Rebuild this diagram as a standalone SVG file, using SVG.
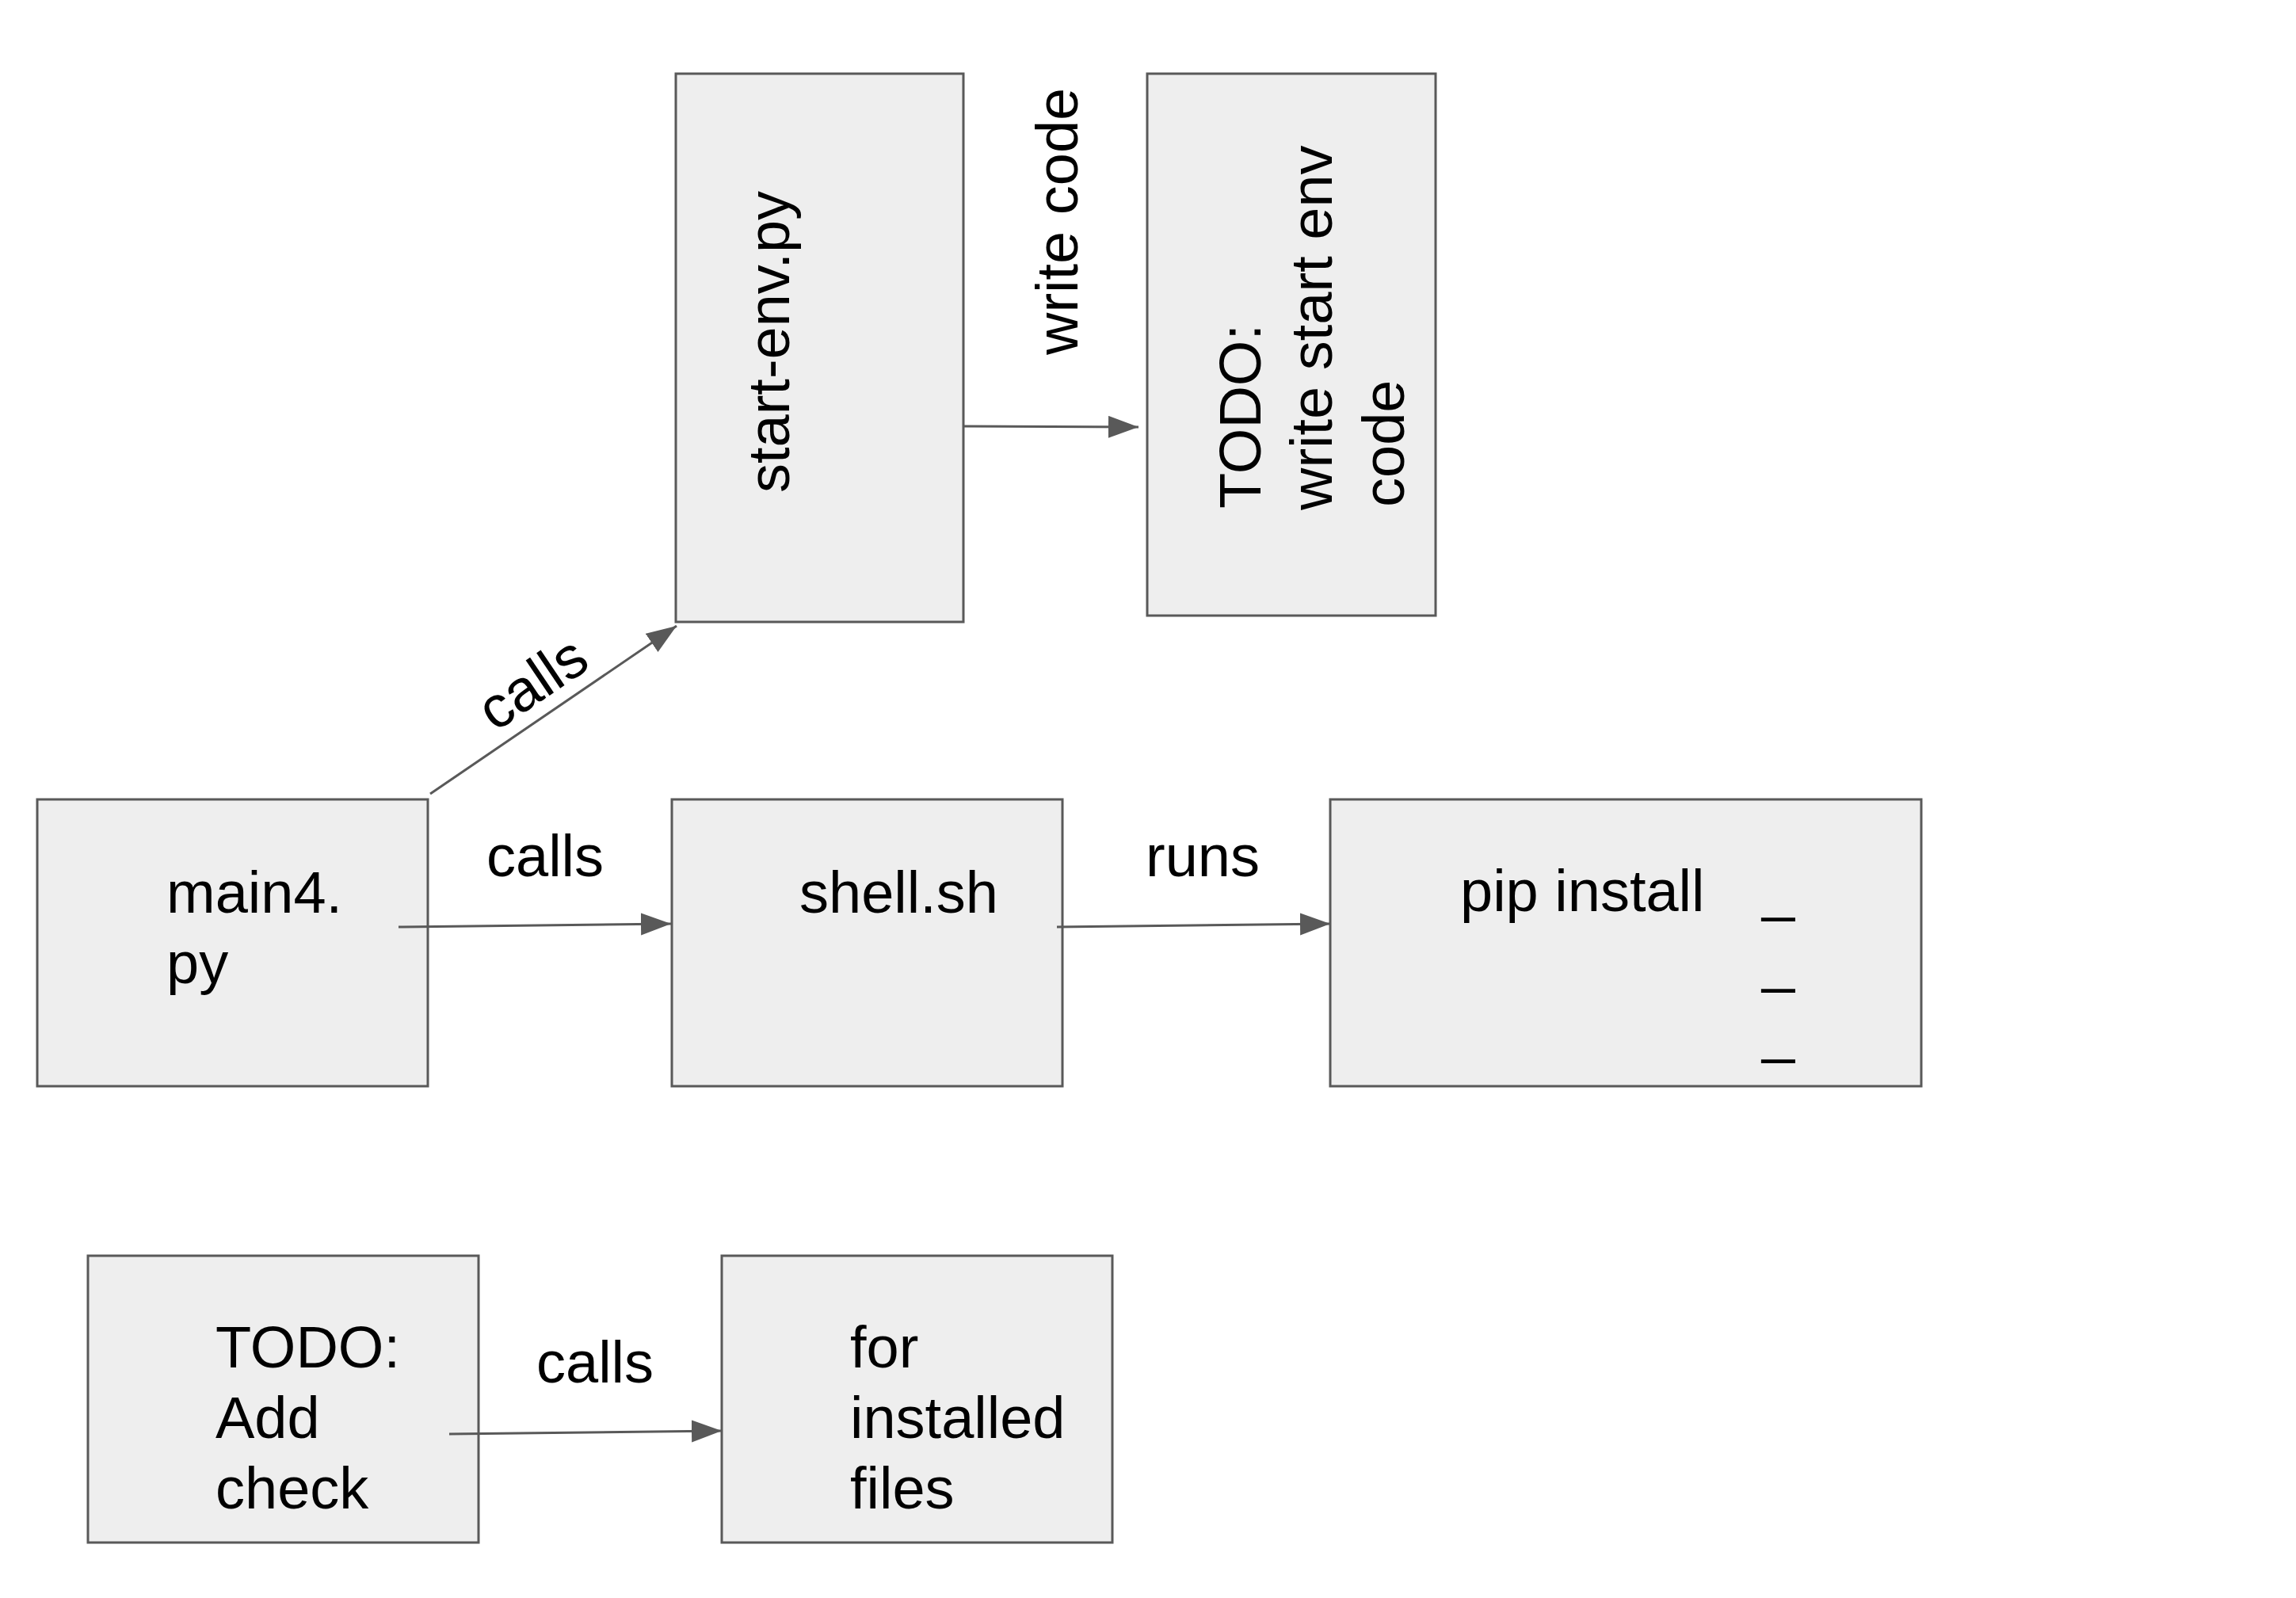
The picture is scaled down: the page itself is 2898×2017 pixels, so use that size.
<svg xmlns="http://www.w3.org/2000/svg" width="2898" height="2017" viewBox="0 0 2898 2017">
<defs>
<style>
.box{fill:#eeeeee;stroke:#595959;stroke-width:3}
.t{font-family:"Liberation Sans",Arial,sans-serif;font-size:74px;fill:#000000}
.c{stroke:#595959;stroke-width:3;fill:none;marker-end:url(#ah)}
</style>
<marker id="ah" markerUnits="userSpaceOnUse" markerWidth="40" markerHeight="30" refX="38" refY="14" orient="auto">
<path d="M0,0 L38,14 L0,28 Z" fill="#595959"/>
</marker>
</defs>
<rect width="2898" height="2017" fill="#ffffff"/>
<g id="start-env">
<rect class="box" x="853" y="93" width="363" height="692"/>
<text class="t" transform="translate(996 622) rotate(-90)">start-env.py</text>
</g>
<g id="todo-start-env">
<rect class="box" x="1448" y="93" width="364" height="684"/>
<text class="t" transform="translate(1591 642) rotate(-90)">TODO:</text>
<text class="t" transform="translate(1681 644) rotate(-90)">write start env</text>
<text class="t" transform="translate(1772 640) rotate(-90)">code</text>
</g>
<g id="main4">
<rect class="box" x="47" y="1009" width="493" height="362"/>
<text class="t" x="210" y="1152">main4.</text>
<text class="t" x="210" y="1241">py</text>
</g>
<g id="shell">
<rect class="box" x="848" y="1009" width="493" height="362"/>
<text class="t" x="1009" y="1152">shell.sh</text>
</g>
<g id="pip-install">
<rect class="box" x="1679" y="1009" width="746" height="362"/>
<text class="t" x="1843" y="1150">pip install</text>
<text class="t" x="2224" y="1148">_</text>
<text class="t" x="2224" y="1238">_</text>
<text class="t" x="2224" y="1327">_</text>
</g>
<g id="todo-add-check">
<rect class="box" x="111" y="1585" width="493" height="362"/>
<text class="t" x="272" y="1726">TODO:</text>
<text class="t" x="272" y="1815">Add</text>
<text class="t" x="272" y="1904">check</text>
</g>
<g id="installed-files">
<rect class="box" x="911" y="1585" width="493" height="362"/>
<text class="t" x="1073" y="1726">for</text>
<text class="t" x="1073" y="1815">installed</text>
<text class="t" x="1073" y="1904">files</text>
</g>
<g id="connectors">
<line class="c" x1="1217" y1="538" x2="1437" y2="539"/>
<line class="c" x1="543" y1="1002" x2="854" y2="790"/>
<line class="c" x1="503" y1="1170" x2="847" y2="1166"/>
<line class="c" x1="1334" y1="1170" x2="1679" y2="1166"/>
<line class="c" x1="567" y1="1810" x2="911" y2="1806"/>
<text class="t" x="686" y="883" text-anchor="middle" transform="rotate(-34 686 883)">calls</text>
<text class="t" transform="translate(1360 448) rotate(-90)">write code</text>
<text class="t" x="614" y="1106">calls</text>
<text class="t" x="1446" y="1106">runs</text>
<text class="t" x="677" y="1745">calls</text>
</g>
</svg>
